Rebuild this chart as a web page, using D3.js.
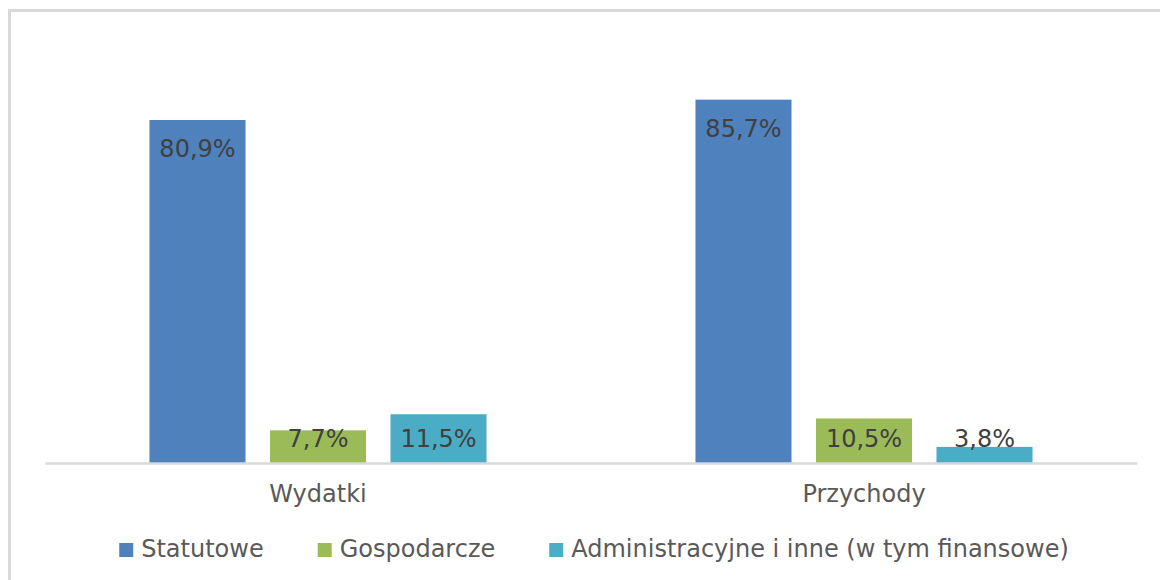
<!DOCTYPE html>
<html>
<head>
<meta charset="utf-8">
<script src="https://cdn.jsdelivr.net/npm/d3@7"></script>
<style>
  html, body { margin: 0; padding: 0; background: #fff; }
  svg { display: block; font-family: "DejaVu Sans", sans-serif; }
</style>
</head>
<body>
<svg id="chart" width="1160" height="580"></svg>
<script>
const categories = ["Wydatki", "Przychody"];
const seriesNames = ["Statutowe", "Gospodarcze", "Administracyjne i inne (w tym finansowe)"];
const seriesColors = ["#4f81bd", "#9bbb59", "#4bacc6"];
const valuesStatutowe = [80.9, 85.7];
const valuesGospodarcze = [7.7, 10.5];
const valuesAdministracyjne = [11.5, 3.8];
const seriesValues = [valuesStatutowe, valuesGospodarcze, valuesAdministracyjne];

const svg = d3.select("#chart");
const W = 1160, H = 580;

// chart border
svg.append("rect")
  .attr("x", 9.5).attr("y", 10.5)
  .attr("width", W + 10).attr("height", H + 10)
  .attr("fill", "#fff").attr("stroke", "#d9d9d9").attr("stroke-width", 3);

const plot = { left: 45, right: 1137, top: 39, bottom: 463 };

const x0 = d3.scaleBand().domain(categories).range([plot.left, plot.right]).padding(0);
const x1 = d3.scaleBand().domain(seriesNames).range([0, x0.bandwidth()])
  .paddingInner(0.203).paddingOuter(0.867);
const y = d3.scaleLinear().domain([0, 100]).range([plot.bottom, plot.top]);

const data = [];
categories.forEach((c, ci) => {
  seriesNames.forEach((s, si) => {
    data.push({ cat: c, series: s, value: seriesValues[si][ci], color: seriesColors[si] });
  });
});

const fmt = v => v.toFixed(1).replace(".", ",") + "%";

const bars = svg.append("g");
bars.selectAll("rect").data(data).enter().append("rect")
  .attr("x", d => x0(d.cat) + x1(d.series))
  .attr("y", d => y(d.value))
  .attr("width", x1.bandwidth())
  .attr("height", d => y(0) - y(d.value))
  .attr("fill", d => d.color);

// axis line (category axis)
const xAxis = d3.axisBottom(x0).tickSize(0).tickPadding(0);
const axG = svg.append("g").attr("transform", `translate(0,${plot.bottom})`).call(xAxis);
axG.select(".domain").attr("stroke", "#d9d9d9").attr("stroke-width", 2.5);
axG.selectAll(".tick text")
  .attr("dy", 0).attr("y", 39)
  .attr("font-size", 24).attr("fill", "#595959")
  .attr("font-family", "DejaVu Sans, sans-serif");

// data labels
svg.append("g").selectAll("text").data(data).enter().append("text")
  .attr("x", d => x0(d.cat) + x1(d.series) + x1.bandwidth() / 2)
  .attr("y", d => Math.min(y(d.value) + 37, y(0) - 16))
  .attr("text-anchor", "middle")
  .attr("font-size", 24)
  .attr("fill", "#404040")
  .text(d => fmt(d.value));

// legend
const legend = svg.append("g");
const items = legend.selectAll("g").data(seriesNames).enter().append("g");
items.append("rect").attr("width", 14).attr("height", 14).attr("y", -14)
  .attr("fill", (d, i) => seriesColors[i]);
items.append("text").attr("x", 22).attr("y", 0)
  .attr("font-size", 24).attr("fill", "#595959").text(d => d);
let widths = [];
items.each(function () { widths.push(this.getBBox().width); });
const gap = 54;
const total = d3.sum(widths) + gap * (widths.length - 1);
let cx = 594 - total / 2;
items.attr("transform", (d, i) => {
  const t = `translate(${cx},557)`;
  cx += widths[i] + gap;
  return t;
});
</script>
</body>
</html>
